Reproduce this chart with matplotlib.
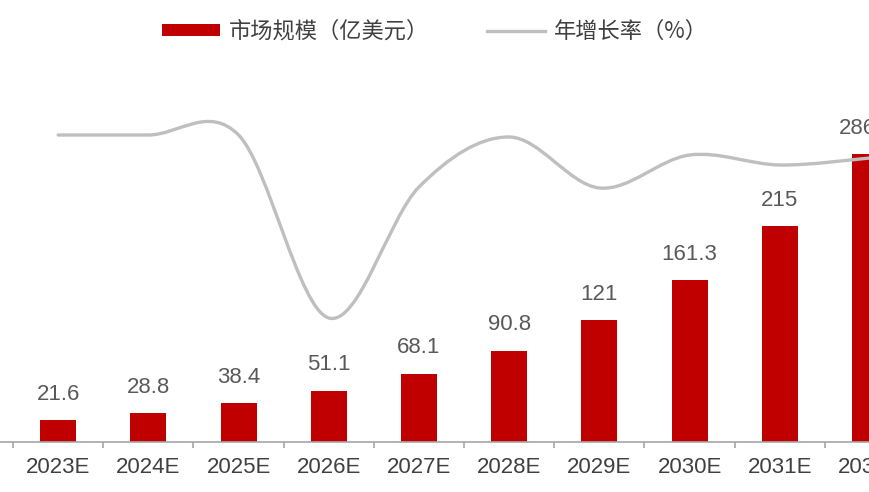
import matplotlib
matplotlib.use("Agg")
import matplotlib.pyplot as plt
import numpy as np
from matplotlib.path import Path
from matplotlib.patches import PathPatch, Patch
from matplotlib.lines import Line2D

years = ["2023E", "2024E", "2025E", "2026E", "2027E",
         "2028E", "2029E", "2030E", "2031E", "2032E"]
market_size = [21.6, 28.8, 38.4, 51.1, 68.1, 90.8, 121, 161.3, 215, 286]
growth_rate = [30.7, 30.7, 30.7, 12.4, 25.5, 30.5, 25.4, 28.7, 27.7, 28.4]

BAR_RED = "#C00000"
LINE_GREY = "#BFBFBF"
TEXT_GREY = "#595959"
CJK = ["Noto Sans CJK SC", "DejaVu Sans"]


def smooth_path(xs, ys):
    """Catmull-Rom style bezier through the points (like Excel's smoothed line)."""
    pts = np.column_stack([xs, ys]).astype(float)
    ext = np.vstack([pts[0], pts, pts[-1]])
    verts = [pts[0]]
    codes = [Path.MOVETO]
    for i in range(len(pts) - 1):
        p0, p1, p2, p3 = ext[i], ext[i + 1], ext[i + 2], ext[i + 3]
        verts += [p1 + (p2 - p0) / 6, p2 - (p3 - p1) / 6, p2]
        codes += [Path.CURVE4] * 3
    return Path(verts, codes)


plt.rcParams["font.family"] = ["Liberation Sans", "DejaVu Sans"]

fig = plt.figure(figsize=(8.7, 4.92), dpi=100)
ax = fig.add_axes([0.0, 50 / 492, 1.0, 380 / 492])
x = np.arange(len(years))

ax.bar(x, market_size, width=0.4, color=BAR_RED, zorder=2)
for xi, v in zip(x, market_size):
    # the last label sits a bit left of its bar, as in the source chart
    dx = -9 if xi == x[-1] else 0
    ax.annotate(f"{v:g}", (xi, v), xytext=(dx, 11), textcoords="offset points",
                ha="center", va="bottom", fontsize=16, color=TEXT_GREY,
                annotation_clip=False)

ax.set_yticks([])
for side in ["left", "right", "top"]:
    ax.spines[side].set_visible(False)
ax.spines["bottom"].set_color("#A6A6A6")
ax.spines["bottom"].set_linewidth(1.2)

ax.set_xticks(x)
ax.set_xticklabels(years, fontsize=16, color="#404040")
ax.tick_params(axis="x", which="major", length=0, pad=11)
ax.set_xticks(np.arange(-0.5, len(years), 1.0), minor=True)
ax.tick_params(axis="x", which="minor", length=4, width=1.2, color="#A6A6A6",
               direction="out")

ax2 = ax.twinx()
ax2.set_yticks([])
for side in ax2.spines:
    ax2.spines[side].set_visible(False)
ax2.add_patch(PathPatch(smooth_path(x, growth_rate), facecolor="none",
                        edgecolor=LINE_GREY, linewidth=2.4, capstyle="round"))

# limits last, after the patch has touched autoscaling
ax.set_xlim(-0.645, 9.0)
ax.set_ylim(0, 378)
ax2.set_ylim(0, 38)

handles = [Patch(facecolor=BAR_RED, edgecolor="none"),
           Line2D([], [], color=LINE_GREY, linewidth=2.4)]
fig.legend(handles, ["市场规模（亿美元）", "年增长率（%）"], loc="center",
           bbox_to_anchor=(0.5, 1 - 31 / 492), ncol=2, frameon=False,
           handlelength=2.6, handleheight=0.45, handletextpad=0.4,
           columnspacing=2.6, prop={"family": CJK, "size": 16},
           labelcolor="#404040")

fig.savefig("out.png", dpi=100)
